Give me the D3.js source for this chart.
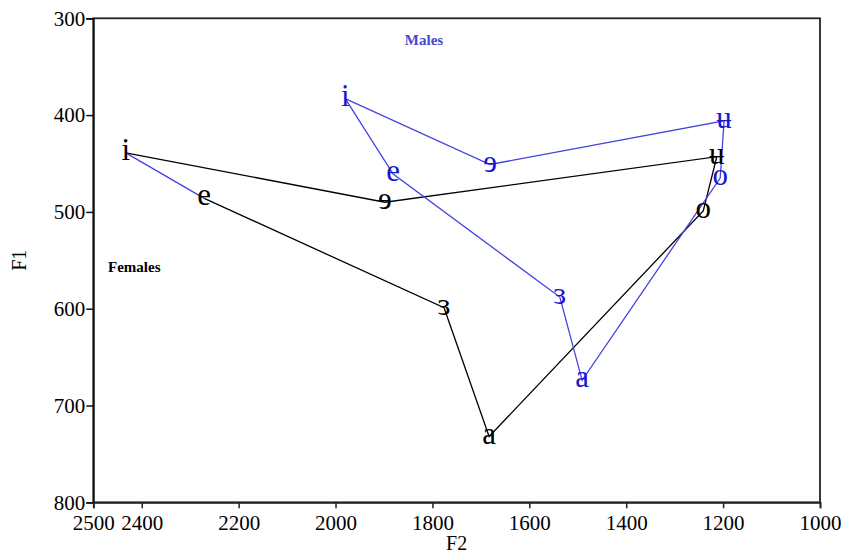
<!DOCTYPE html>
<html>
<head>
<meta charset="utf-8">
<script src="https://cdn.jsdelivr.net/npm/d3@7"></script>
<style>
  html, body { margin: 0; padding: 0; background: #fff; }
  svg { display: block; }
  text { font-family: "Liberation Serif", "Times New Roman", serif; }
</style>
</head>
<body>
<svg id="chart" width="841" height="554"></svg>
<script>
// Vowel formant means (Hz): F2 horizontal, F1 vertical
const vowels = ["i", "ɘ", "ʉ", "o", "a", "ɜ", "e"];
const femaleF2 = [2433, 1898, 1213, 1241, 1683, 1776, 2271];
const femaleF1 = [439, 490, 443, 499, 732, 599, 486];
const maleF2 = [1980, 1681, 1198, 1206, 1491, 1537, 1881];
const maleF1 = [383, 451, 406, 465, 674, 588, 461];

const xTicks = [2500, 2400, 2200, 2000, 1800, 1600, 1400, 1200, 1000];
const yTicks = [300, 400, 500, 600, 700, 800];

const width = 841, height = 554;
const margin = { top: 18.3, right: 21, bottom: 51.7, left: 93.3 };
const innerW = width - margin.left - margin.right;
const innerH = height - margin.top - margin.bottom;

const blueLine = "#4343e0";
const blueText = "#1818d2";

const svg = d3.select("#chart");
const g = svg.append("g").attr("transform", `translate(${margin.left},${margin.top})`);

// Both axes run "backwards" as is usual for vowel charts
const x = d3.scaleLinear().domain([2500, 1000]).range([0, innerW]);
const y = d3.scaleLinear().domain([300, 800]).range([0, innerH]);

// Frame
g.append("rect")
  .attr("x", 0).attr("y", 0)
  .attr("width", innerW).attr("height", innerH)
  .attr("fill", "none").attr("stroke", "#222").attr("stroke-width", 1.8);

// Y axis
const yAxis = g.append("g")
  .call(d3.axisLeft(y).tickValues(yTicks).tickSize(7).tickPadding(1).tickFormat(d3.format("d")));
yAxis.select(".domain").attr("stroke", "#111").attr("stroke-width", 1.8);
yAxis.selectAll(".tick line").attr("stroke", "#111").attr("stroke-width", 1.5);
yAxis.selectAll(".tick text").attr("font-size", 21).attr("fill", "#000")
  .attr("font-family", "Liberation Serif, serif");

// X axis
const xAxis = g.append("g")
  .attr("transform", `translate(0,${innerH})`)
  .call(d3.axisBottom(x).tickValues(xTicks).tickSize(6).tickPadding(7).tickFormat(d3.format("d")));
xAxis.select(".domain").attr("stroke", "#222").attr("stroke-width", 1.8);
xAxis.selectAll(".tick line").attr("stroke", "#222").attr("stroke-width", 1.5);
xAxis.selectAll(".tick text").attr("font-size", 21).attr("fill", "#000")
  .attr("font-family", "Liberation Serif, serif");

// Axis titles
svg.append("text")
  .attr("x", margin.left + innerW / 2).attr("y", 550)
  .attr("text-anchor", "middle").attr("font-size", 20).attr("fill", "#000")
  .text("F2");
svg.append("text")
  .attr("transform", `translate(26,${margin.top + innerH / 2}) rotate(-90)`)
  .attr("text-anchor", "middle").attr("font-size", 20).attr("fill", "#000")
  .text("F1");

const female = vowels.map((v, i) => ({ v, f2: femaleF2[i], f1: femaleF1[i] }));
const male = vowels.map((v, i) => ({ v, f2: maleF2[i], f1: maleF1[i] }));

const line = d3.line().x(d => x(d.f2)).y(d => y(d.f1));

// Female vowel space (open outline in black; the closing edge is drawn in blue)
g.append("path")
  .attr("d", line(female))
  .attr("fill", "none").attr("stroke", "#000").attr("stroke-width", 1.3);
g.append("path")
  .attr("d", line([female[female.length - 1], female[0]]))
  .attr("fill", "none").attr("stroke", blueLine).attr("stroke-width", 1.3);

// Male vowel space (closed outline in blue)
g.append("path")
  .attr("d", line(male.concat([male[0]])))
  .attr("fill", "none").attr("stroke", blueLine).attr("stroke-width", 1.3);

// Vowel symbols at each formant point
function symbols(data, color) {
  g.append("g").selectAll("text")
    .data(data)
    .join("text")
    .attr("x", d => x(d.f2))
    .attr("y", d => y(d.f1))
    .attr("dy", "0.23em")
    .attr("text-anchor", "middle")
    .attr("font-size", 31)
    .attr("fill", color)
    .text(d => d.v);
}
symbols(female, "#000");
symbols(male, blueText);

// Group labels
svg.append("text")
  .attr("x", 424).attr("y", 45)
  .attr("text-anchor", "middle").attr("font-size", 15).attr("font-weight", "bold")
  .attr("fill", "#4848cc").text("Males");
svg.append("text")
  .attr("x", 108).attr("y", 272)
  .attr("font-size", 15).attr("font-weight", "bold")
  .attr("fill", "#000").text("Females");
</script>
</body>
</html>
